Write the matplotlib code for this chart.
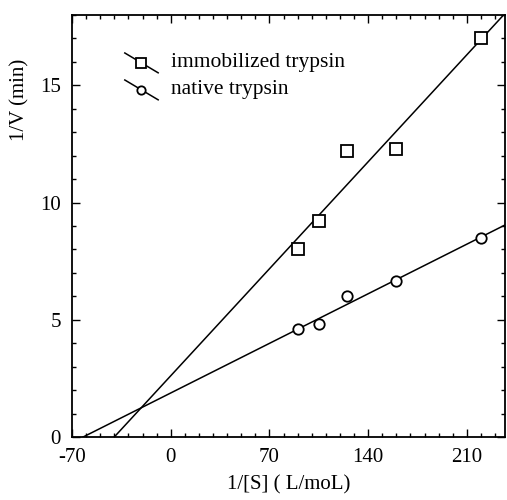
import numpy as np
import matplotlib
matplotlib.use("Agg")
import matplotlib.pyplot as plt
from matplotlib.ticker import MultipleLocator

plt.rcParams['font.family'] = ['Liberation Serif', 'DejaVu Serif']
plt.rcParams['axes.unicode_minus'] = False

# Data
inv_s = [90, 105, 125, 160, 220]
immobilized = [8.0, 9.2, 12.2, 12.3, 17.0]
native = [4.6, 4.8, 6.0, 6.65, 8.5]
series_names = ["immobilized trypsin", "native trypsin"]
x_ticks = [-70, 0, 70, 140, 210]
y_ticks = [0, 5, 10, 15]

fig = plt.figure(figsize=(5.07, 5.0), dpi=100)
ax = fig.add_axes([0.142, 0.126, 0.854, 0.844])
xlim = (-70, 237)
ylim = (0, 18)
ax.set_xlim(*xlim)
ax.set_ylim(*ylim)

x = np.array(inv_s, dtype=float)
for yv, marker in [(immobilized, 's'), (native, 'o')]:
    y = np.array(yv, dtype=float)
    k, b = np.polyfit(x, y, 1)
    x0 = -b / k
    xs = np.array([x0, xlim[1]])
    ax.plot(xs, k * xs + b, color='black', lw=1.1)
    ax.plot(x, y, linestyle='none', marker=marker, ms=8.5 if marker == 's' else 7.5,
            mfc='white', mec='black', mew=1.3, zorder=3)

# custom legend (diagonal line through marker)
for i, (name, marker) in enumerate(zip(series_names, ['s', 'o'])):
    dy = -0.064 * i
    ax.plot([0.122, 0.199], [0.910 + dy, 0.863 + dy], color='black', lw=1.1,
            transform=ax.transAxes, clip_on=False)
    ax.plot([0.160], [0.887 + dy], marker=marker, ms=6.5 if marker == 's' else 6,
            mfc='white', mec='black', mew=1.3, transform=ax.transAxes, clip_on=False)
    ax.text(0.228, 0.887 + dy, name, transform=ax.transAxes, ha='left', va='center',
            fontsize=15.5)

ax.set_xticks(x_ticks)
ax.set_yticks(y_ticks)
ax.xaxis.set_minor_locator(MultipleLocator(10))
ax.yaxis.set_minor_locator(MultipleLocator(1))
ax.tick_params(which='both', direction='in', top=True, right=True, labelsize=15,
               width=1.0)
ax.tick_params(which='major', length=6, pad=8)
ax.tick_params(which='minor', length=3)
for s in ax.spines.values():
    s.set_linewidth(1.3)

ax.set_xlabel("1/[S] ( L/moL)", fontsize=15, labelpad=6)
ax.set_ylabel("1/V (min)", fontsize=15)
ax.yaxis.set_label_coords(-0.098, 0.8)

fig.savefig("out.png", dpi=100)
